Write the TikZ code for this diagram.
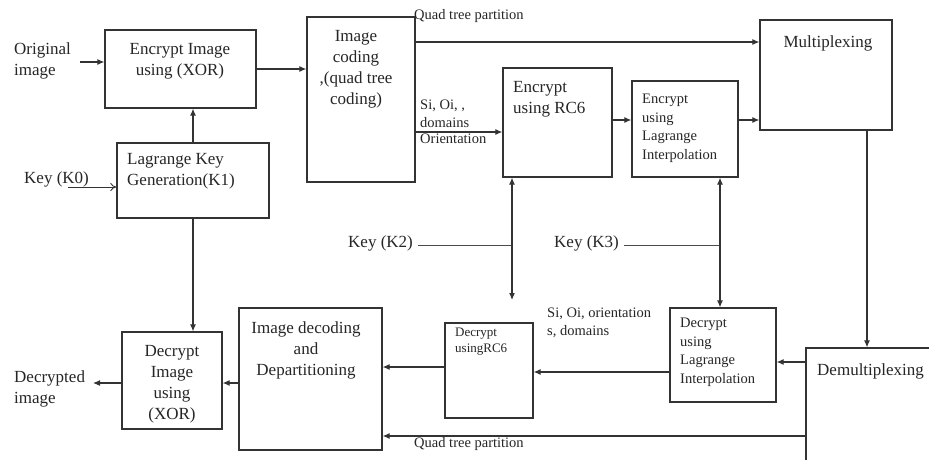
\documentclass[tikz,border=0pt]{standalone}
\usepackage{fontspec}
\setmainfont{Liberation Serif}
\usetikzlibrary{arrows.meta,calc}
\begin{document}
\begin{tikzpicture}[x=1pt,y=-1pt,
  box/.style={draw=black!80,line width=1.3pt,inner sep=0pt},
  txt/.style={font=\fontsize{17}{21}\selectfont,inner sep=0pt,align=center,text=black!85},
  txtl/.style={txt,align=left},
  small/.style={font=\fontsize{14.5}{18.5}\selectfont,inner sep=0pt,align=left,text=black!85},
  tiny/.style={font=\fontsize{13}{16}\selectfont,inner sep=0pt,align=left,text=black!85},
  arr/.style={draw=black!80,line width=1.1pt,-{Latex[length=7pt,width=6pt]}},
  ln/.style={draw=black!70,line width=0.8pt}]
\useasboundingbox[fill=white] (0,0) rectangle (929,459);
\clip (0,0) rectangle (929,459);
% boxes
\node[box,minimum width=151,minimum height=78] (enc) at (180.5,69) {};
\node[box,minimum width=152,minimum height=75] (lkg) at (193,180.5) {};
\node[box,minimum width=108,minimum height=165] (coding) at (361,99.5) {};
\node[box,minimum width=109,minimum height=109] (rc6) at (557.5,122.5) {};
\node[box,minimum width=106,minimum height=96] (lag) at (685,129) {};
\node[box,minimum width=132,minimum height=110] (mux) at (826,75) {};
\node[box,minimum width=160,minimum height=140] (demux) at (886,418) {};
\node[box,minimum width=106,minimum height=94] (dlag) at (723,355) {};
\node[box,minimum width=88,minimum height=95] (drc6) at (489,370.5) {};
\node[box,minimum width=143,minimum height=142] (dec) at (310.5,379) {};
\node[box,minimum width=100,minimum height=97] (dxor) at (172,380.5) {};
% texts in boxes
\node[txt,anchor=north] (tenc) at (180,43) {Encrypt Image\\using (XOR)};
\node[txtl,anchor=north west] (tlkg) at (127,153) {Lagrange Key\\Generation(K1)};
\node[txt,anchor=north] (tcod) at (356,30) {Image\\coding\\,(quad tree\\coding)};
\node[txtl,anchor=north west] (trc6) at (513,81) {Encrypt\\using RC6};
\node[small,anchor=north west] (tlag) at (642,94) {Encrypt\\using\\Lagrange\\Interpolation};
\node[txt,anchor=north] (tmux) at (828,35) {Multiplexing};
\node[txtl,anchor=north west] (tdemux) at (817,363) {Demultiplexing};
\node[small,anchor=north west] (tdlag) at (680,318) {Decrypt\\using\\Lagrange\\Interpolation};
\node[tiny,anchor=north west] (tdrc6) at (455,328) {Decrypt\\usingRC6};
\node[txt,anchor=north] (tdec) at (306,321) {Image decoding\\and\\Departitioning};
\node[txt,anchor=north] (tdxor) at (172,345) {Decrypt\\Image\\using\\(XOR)};
% outside labels
\node[txtl,anchor=west] (orig) at (14,61) {Original\\image};
\node[txtl,anchor=west] (k0) at (24,179) {Key (K0)};
\node[txtl,anchor=west] (dimg) at (14,389) {Decrypted\\image};
\node[txtl,anchor=west] (k2) at (348,243) {Key (K2)};
\node[txtl,anchor=west] (k3) at (554,243) {Key (K3)};
\node[small,anchor=west] (qt1) at (414,16) {Quad tree partition};
\node[small,anchor=west] (qt2) at (414,444) {Quad tree partition};
\node[small,anchor=south west] (si1) at (420,128) {Si, Oi, ,\\domains};
\node[small,anchor=north west] (si2) at (420,134) {Orientation};
\node[small,anchor=west] (si3) at (547,323) {Si, Oi, orientation\\s, domains};
% coordinates
\coordinate (co) at (80,62);
\coordinate (ck0) at (68,187);
\coordinate (cdi) at (93,383);
\coordinate (j2) at (512,245);
\coordinate (d2) at (512,300);
\coordinate (j3) at (720,245);
% connectors
\draw[arr] (co) -- (co -| enc.west);
\draw[arr] (enc.east) -- (enc.east -| coding.west);
\draw[arr] (lkg.north) -- (lkg.north |- enc.south);
\draw[draw=black!80,line width=0.9pt,-{To[length=6pt,width=8pt]}] (ck0) -- (ck0 -| lkg.west);
\draw[arr] (lkg.south) -- (lkg.south |- dxor.north);
\draw[arr] (coding.east |- 0,42) -- (mux.west |- 0,42);
\draw[arr] (coding.east |- 0,132) -- (rc6.west |- 0,132);
\draw[arr] (rc6.east |- 0,120) -- (lag.west |- 0,120);
\draw[arr] (lag.east |- 0,120) -- (mux.west |- 0,120);
\draw[ln] (k2.east) ++(5,2) -- (j2);
\draw[arr] (j2) -- (j2 |- rc6.south);
\draw[arr] (j2) -- (d2);
\draw[ln] (k3.east) ++(5,2) -- (j3);
\draw[arr] (j3) -- (j3 |- lag.south);
\draw[arr] (j3) -- (j3 |- dlag.north);
\draw[arr] (mux.south -| 867,0) -- (demux.north -| 867,0);
\draw[arr] (demux.west |- 0,362) -- (dlag.east |- 0,362);
\draw[arr] (dlag.west |- 0,372) -- (drc6.east |- 0,372);
\draw[arr] (drc6.west |- 0,367) -- (dec.east |- 0,367);
\draw[arr] (demux.west |- 0,436) -- (dec.east |- 0,436);
\draw[arr] (dec.west |- 0,383) -- (dxor.east |- 0,383);
\draw[arr] (dxor.west |- 0,383) -- (cdi);
\end{tikzpicture}
\end{document}
